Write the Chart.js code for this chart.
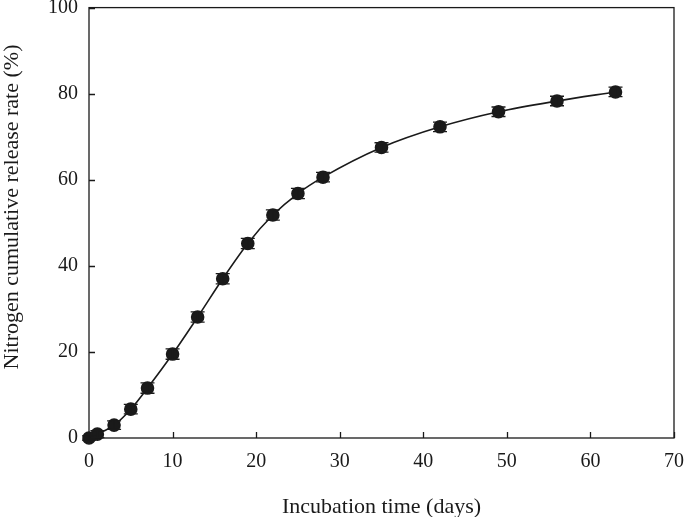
<!DOCTYPE html>
<html>
<head>
<meta charset="utf-8">
<script src="https://cdn.jsdelivr.net/npm/chart.js@4"></script>
<style>
html,body{margin:0;padding:0;background:#fff;}
#wrap{width:685px;height:517px;position:relative;}
</style>
</head>
<body>
<div id="wrap"><canvas id="c" width="685" height="517"></canvas></div>
<script>
const days = [0, 1, 3, 5, 7, 10, 13, 16, 19, 22, 25, 28, 35, 42, 49, 56, 63];
const release = [0, 0.9, 3.0, 6.7, 11.6, 19.5, 28.1, 37.0, 45.2, 51.8, 56.8, 60.6, 67.5, 72.3, 75.8, 78.3, 80.4];
const errors = [0.5, 0.8, 1.0, 1.1, 1.2, 1.2, 1.2, 1.2, 1.2, 1.2, 1.2, 1.1, 1.1, 1.1, 1.1, 1.1, 1.1];
const xTicks = [0, 10, 20, 30, 40, 50, 60, 70];
const yTicks = [0, 20, 40, 60, 80, 100];
const xTitle = 'Incubation time (days)';
const yTitle = 'Nitrogen cumulative release rate (%)';

const FONT = "'Liberation Serif', 'Times New Roman', serif";
const INK = '#1a1a1a';

const frame = {
  id: 'frame',
  afterDatasetsDraw(chart) {
    const ctx = chart.ctx, a = chart.chartArea;
    const xs = chart.scales.x, ys = chart.scales.y;
    ctx.save();
    ctx.strokeStyle = INK;
    ctx.lineWidth = 1.3;
    ctx.strokeRect(a.left, a.top, a.right - a.left, a.bottom - a.top);
    ctx.beginPath();
    xTicks.forEach(v => {
      const px = Math.round(xs.getPixelForValue(v)) + 0.5;
      ctx.moveTo(px, a.bottom); ctx.lineTo(px, a.bottom - 6);
    });
    yTicks.forEach(v => {
      const py = Math.round(ys.getPixelForValue(v)) + 0.5;
      ctx.moveTo(a.left, py); ctx.lineTo(a.left + 6, py);
    });
    ctx.stroke();
    // axis titles
    ctx.fillStyle = INK;
    ctx.font = "22px " + FONT;
    ctx.textAlign = 'center';
    ctx.textBaseline = 'middle';
    ctx.fillText(xTitle, (a.left + a.right) / 2, 507);
    ctx.translate(12, 207);
    ctx.rotate(-Math.PI / 2);
    ctx.fillText(yTitle, 0, 0);
    ctx.restore();
  }
};

const errBars = {
  id: 'errBars',
  afterDatasetsDraw(chart) {
    const ctx = chart.ctx;
    const xs = chart.scales.x, ys = chart.scales.y;
    ctx.save();
    ctx.strokeStyle = INK;
    ctx.lineWidth = 1.3;
    days.forEach((d, i) => {
      const px = xs.getPixelForValue(d);
      const hi = ys.getPixelForValue(release[i] + errors[i]);
      const lo = ys.getPixelForValue(release[i] - errors[i]);
      ctx.beginPath();
      ctx.moveTo(px, hi); ctx.lineTo(px, lo);
      ctx.moveTo(px - 7, hi); ctx.lineTo(px + 7, hi);
      ctx.moveTo(px - 7, lo); ctx.lineTo(px + 7, lo);
      ctx.stroke();
    });
    ctx.restore();
  }
};

function zeroPad(s) { s.paddingLeft = 0; s.paddingRight = 0; s.paddingTop = 0; s.paddingBottom = 0; }

new Chart(document.getElementById('c'), {
  type: 'line',
  data: {
    datasets: [{
      data: days.map((d, i) => ({x: d, y: release[i]})),
      borderColor: INK,
      backgroundColor: INK,
      borderWidth: 1.6,
      pointRadius: 6,
      pointHoverRadius: 6,
      pointBackgroundColor: INK,
      pointBorderColor: INK,
      cubicInterpolationMode: 'monotone',
      clip: false
    }]
  },
  options: {
    responsive: false,
    animation: false,
    devicePixelRatio: 1,
    layout: {padding: {top: 7, right: 11, left: 0, bottom: 0}},
    plugins: {legend: {display: false}, tooltip: {enabled: false}},
    scales: {
      x: {
        type: 'linear', min: 0, max: 70,
        afterBuildTicks(s) { s.ticks = xTicks.map(v => ({value: v})); },
        afterFit(s) { s.height = 79; zeroPad(s); },
        grid: {display: false},
        border: {display: false},
        ticks: {color: INK, font: {family: FONT, size: 20}, padding: 4, maxRotation: 0},
        title: {display: false}
      },
      y: {
        type: 'linear', min: 0, max: 100,
        afterBuildTicks(s) { s.ticks = yTicks.map(v => ({value: v})); },
        afterFit(s) { s.width = 89; zeroPad(s); },
        grid: {display: false},
        border: {display: false},
        ticks: {color: INK, font: {family: FONT, size: 20}, padding: 3},
        title: {display: false}
      }
    }
  },
  plugins: [frame, errBars]
});
</script>
</body>
</html>
